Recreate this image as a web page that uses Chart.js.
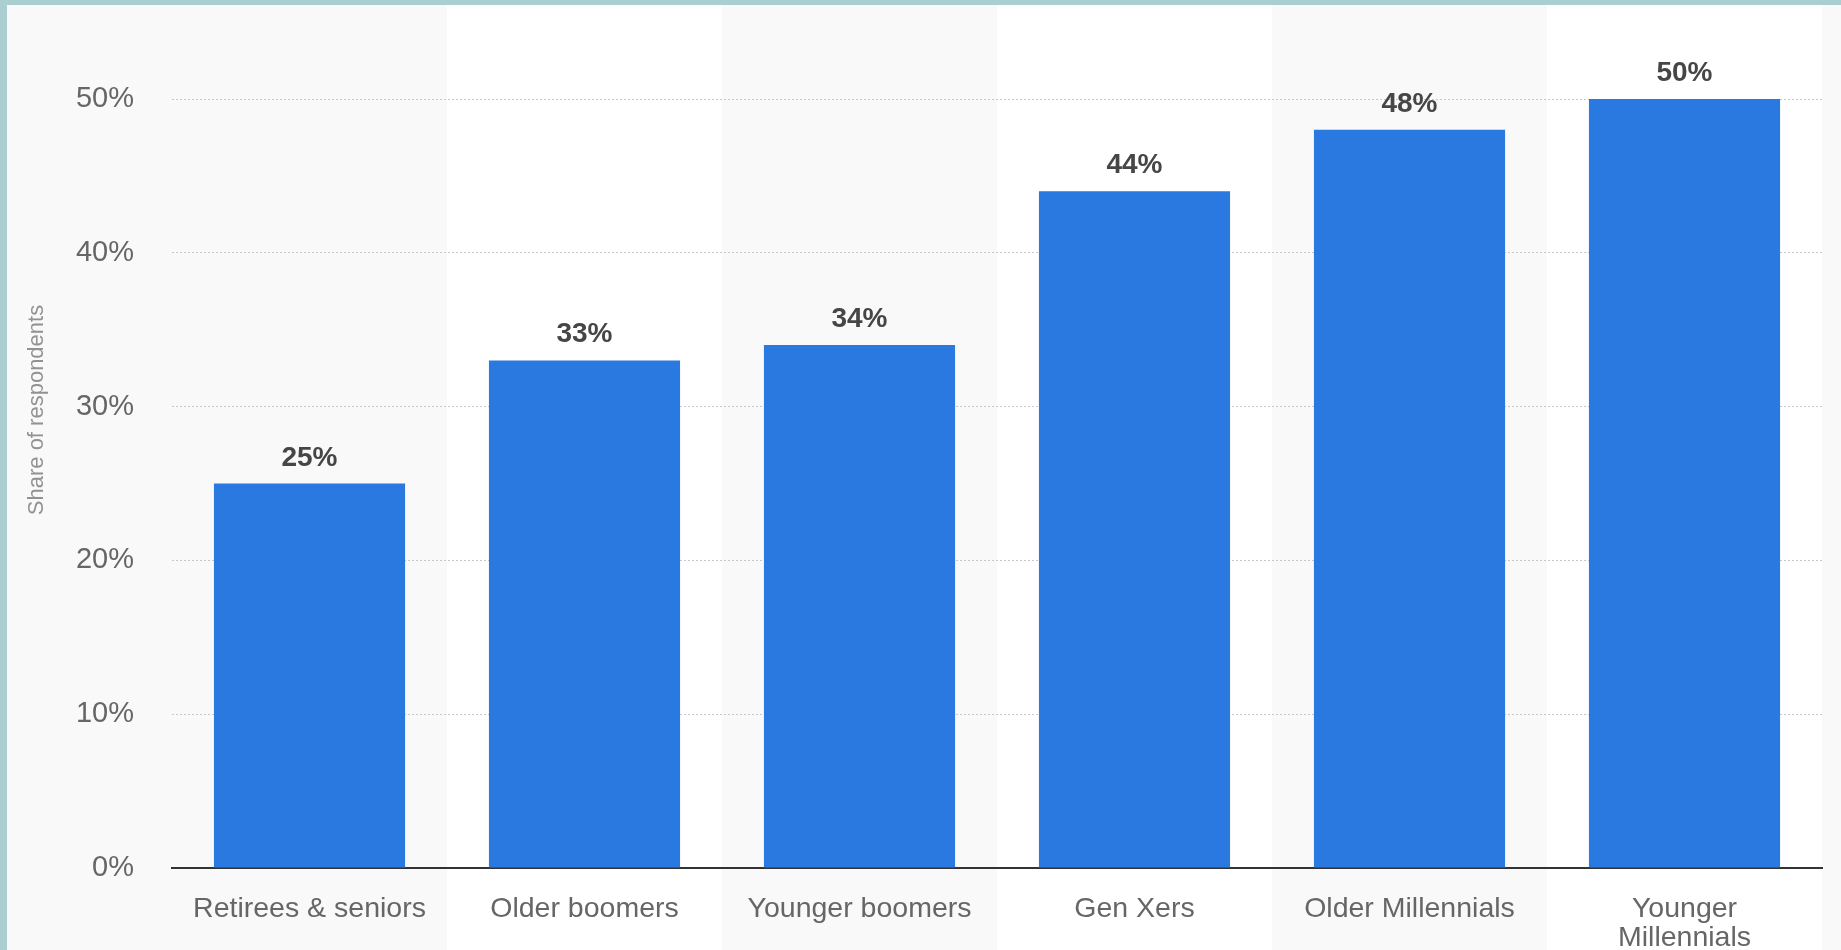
<!DOCTYPE html>
<html><head><meta charset="utf-8">
<script src="https://cdn.jsdelivr.net/npm/chart.js@4"></script>
<style>
html,body{margin:0;padding:0;background:#abcfd0;width:1841px;height:950px;overflow:hidden}
#wrap{position:absolute;left:7px;top:5px;width:1834px;height:945px;background:#f9f9f9}
canvas{display:block}
</style></head><body>
<div id="wrap"><canvas id="c" width="1834" height="945"></canvas></div>
<script>
const categories = ['Retirees & seniors', 'Older boomers', 'Younger boomers', 'Gen Xers', 'Older Millennials', ['Younger', 'Millennials']];
const shares = [25, 33, 34, 44, 48, 50];
const yTickValues = [0, 10, 20, 30, 40, 50];
const yTitle = 'Share of respondents';

Chart.defaults.font.family = "'Liberation Sans', Arial, sans-serif";

const bandsPlugin = {
  id: 'bands',
  beforeDraw(chart) {
    const {ctx, scales: {x}} = chart;
    ctx.save();
    ctx.fillStyle = '#f9f9f9';
    ctx.fillRect(0, 0, chart.width, chart.height);
    const half = (x.getPixelForValue(1) - x.getPixelForValue(0)) / 2;
    ctx.fillStyle = '#ffffff';
    categories.forEach((c, i) => {
      if (i % 2 === 1) {
        const cx = x.getPixelForValue(i);
        ctx.fillRect(cx - half, 0, 2 * half, chart.height);
      }
    });
    ctx.restore();
  }
};

const labelsPlugin = {
  id: 'valueLabels',
  afterDatasetsDraw(chart) {
    const {ctx} = chart;
    const meta = chart.getDatasetMeta(0);
    ctx.save();
    ctx.font = "bold 28px 'Liberation Sans', Arial, sans-serif";
    ctx.fillStyle = '#464646';
    ctx.textAlign = 'center';
    ctx.textBaseline = 'alphabetic';
    meta.data.forEach((bar, i) => {
      ctx.fillText(shares[i] + '%', bar.x, bar.y - 18);
    });
    ctx.restore();
  }
};

const yTitlePlugin = {
  id: 'yTitle',
  afterDraw(chart) {
    const {ctx} = chart;
    ctx.save();
    ctx.translate(30, 405);
    ctx.rotate(-Math.PI / 2);
    ctx.font = "22px 'Liberation Sans', Arial, sans-serif";
    ctx.fillStyle = '#929292';
    ctx.textAlign = 'center';
    ctx.textBaseline = 'middle';
    ctx.fillText(yTitle, 0, 0);
    ctx.restore();
  }
};

new Chart(document.getElementById('c'), {
  type: 'bar',
  data: {
    labels: categories,
    datasets: [{
      data: shares,
      backgroundColor: '#2979e0',
      borderWidth: 0,
      categoryPercentage: 1,
      barPercentage: 0.695
    }]
  },
  options: {
    responsive: false,
    animation: false,
    devicePixelRatio: 1,
    layout: {padding: {top: 94, right: 19, left: 0, bottom: 0}},
    plugins: {legend: {display: false}, tooltip: {enabled: false}, title: {display: false}},
    scales: {
      x: {
        grid: {display: false, drawTicks: false},
        border: {display: true, color: '#333333', width: 2},
        ticks: {
          color: '#666666',
          font: {size: 28.5, lineHeight: 1.02},
          padding: 27,
          maxRotation: 0,
          autoSkip: false
        },
        afterFit(s) { s.height = 82; }
      },
      y: {
        min: 0,
        max: 50,
        afterBuildTicks(s) { s.ticks = yTickValues.map(v => ({value: v})); },
        ticks: {
          color: '#666666',
          font: {size: 29},
          padding: 38,
          callback: v => v + '%'
        },
        grid: {color: '#c8c8c8', lineWidth: 1, drawTicks: false},
        border: {display: false, dash: [2, 2]},
        afterFit(s) { s.width = 165; }
      }
    }
  },
  plugins: [bandsPlugin, labelsPlugin, yTitlePlugin]
});
</script>
</body></html>
